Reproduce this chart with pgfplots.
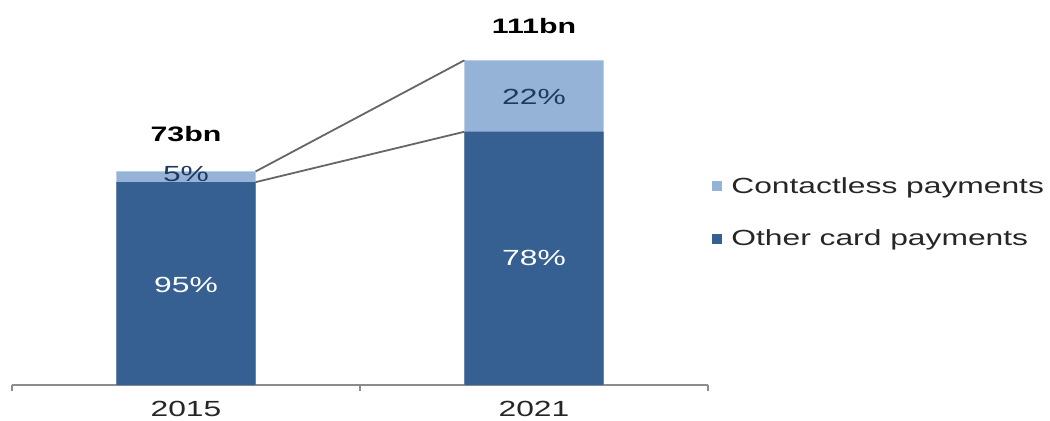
\documentclass[border=0pt]{standalone}
\usepackage{pgfplots}
\pgfplotsset{compat=1.18}
\usepackage{fontspec}
\setmainfont[FakeStretch=1.45]{Liberation Sans}
\definecolor{darkb}{HTML}{376092}
\definecolor{lightb}{HTML}{95B3D7}
\definecolor{navy}{HTML}{1F3A60}
\definecolor{axgray}{HTML}{8C8C8C}
\begin{document}
\begin{tikzpicture}
\begin{axis}[
  at={(12bp,36bp)}, anchor=south west,
  scale only axis, width=696bp, height=375bp,
  xmin=-0.5, xmax=1.5, ymin=0, ymax=128.2,
  axis y line=none,
  axis x line*=bottom,
  x axis line style={-, draw=axgray, line width=1.3bp},
  xtick={0,1}, xticklabels={2015,2021},
  major tick length=0pt,
  tick align=outside,
  extra x ticks={-0.5,0.5,1.5}, extra x tick labels={},
  extra x tick style={major tick length=6bp, tick style={draw=axgray, line width=1.3bp}},
  xticklabel style={font=\fontsize{22}{26}\selectfont, text=black!85, yshift=-13bp},
  /pgf/number format/assume math mode=true,
  ybar, bar width=0.4, bar shift=0pt,
  clip=false,
  legend style={draw=none, fill=none, at={(rel axis cs:1.006,0.46)}, anchor=west,
    font=\fontsize{22}{26}\selectfont, text=black!85, row sep=31bp, inner sep=0pt,
    /tikz/every odd column/.append style={column sep=7bp}},
  legend image code/.code={\fill[#1] (0bp,-5bp) rectangle (10bp,5bp);},
  legend cell align=left,
]
\addplot[fill=lightb, draw=none] coordinates {(0,73) (1,111)};
\addlegendentry{Contactless payments}
\addplot[fill=darkb, draw=none] coordinates {(0,69.35) (1,86.58)};
\addlegendentry{Other card payments}
\addplot[sharp plot, forget plot, no marks, draw=black!60, line width=1.8bp] coordinates {(0.2,73) (0.8,111)};
\addplot[sharp plot, forget plot, no marks, draw=black!60, line width=1.8bp] coordinates {(0.2,69.35) (0.8,86.58)};
\node[font=\fontsize{21}{25}\selectfont\bfseries, text=black] at (axis cs:0,85.8) {73bn};
\node[font=\fontsize{21}{25}\selectfont\bfseries, text=black] at (axis cs:1,122.7) {111bn};
\node[font=\fontsize{22}{26}\selectfont, text=navy] at (axis cs:0,72.1) {5\%};
\node[font=\fontsize{22}{26}\selectfont, text=white] at (axis cs:0,34.2) {95\%};
\node[font=\fontsize{22}{26}\selectfont, text=navy] at (axis cs:1,98.5) {22\%};
\node[font=\fontsize{22}{26}\selectfont, text=white] at (axis cs:1,43.4) {78\%};
\end{axis}
\pgfresetboundingbox
\path[use as bounding box] (0,0) rectangle (1050bp,421bp);
\end{tikzpicture}
\end{document}
